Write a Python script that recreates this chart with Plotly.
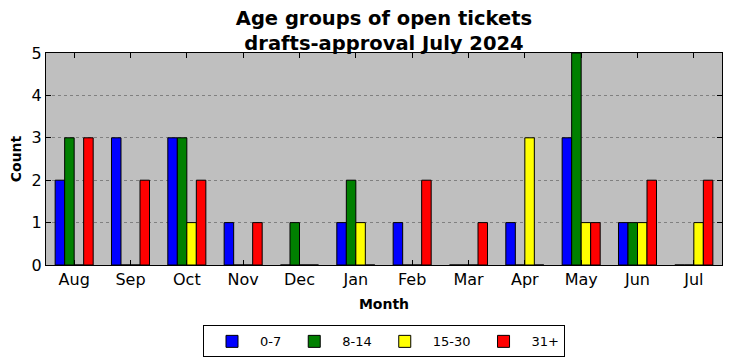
import plotly.graph_objects as go

months = ["Aug", "Sep", "Oct", "Nov", "Dec", "Jan", "Feb", "Mar", "Apr", "May", "Jun", "Jul"]
age_groups = ["0-7", "8-14", "15-30", "31+"]
v_0_7 = [2, 3, 3, 1, 0, 1, 1, 0, 1, 3, 1, 0]
v_8_14 = [3, 0, 3, 0, 1, 2, 0, 0, 0, 5, 1, 0]
v_15_30 = [0, 0, 1, 0, 0, 1, 0, 0, 3, 1, 1, 1]
v_31p = [3, 2, 2, 1, 0, 0, 2, 1, 0, 1, 2, 2]
colors = ["blue", "green", "yellow", "red"]

fig = go.Figure()
for name, vals, c in zip(age_groups, [v_0_7, v_8_14, v_15_30, v_31p], colors):
    fig.add_trace(go.Bar(x=months, y=vals, name=name,
                         marker=dict(color=c, line=dict(color="black", width=1))))

font = "DejaVu Sans"
fig.update_layout(
    width=724, height=353,
    margin=dict(l=38, r=10, t=45, b=96, autoexpand=False),
    paper_bgcolor="white", plot_bgcolor="#bfbfbf",
    barmode="group", bargap=0.325, bargroupgap=0,
    font=dict(family=font, color="black", size=16),
    title=dict(text="<b>Age groups of open tickets<br>drafts-approval July 2024</b>",
               xref="paper", x=0.5, xanchor="center", y=0.953, yanchor="middle",
               font=dict(size=19.5, family=font)),
    legend=dict(orientation="h", x=0.5, xanchor="center", y=-0.285, yanchor="top",
                bordercolor="black", borderwidth=1, font=dict(size=13, family=font),
                itemwidth=46, traceorder="normal"),
    xaxis=dict(title=dict(text="<b>Month</b>", font=dict(size=14), standoff=10),
               showline=True, linecolor="black", linewidth=1, mirror="ticks",
               ticks="inside", ticklen=5, tickcolor="black", showgrid=False,
               tickfont=dict(size=16)),
    yaxis=dict(title=dict(text="<b>Count</b>", font=dict(size=14), standoff=6),
               range=[0, 5], dtick=1, showline=True, linecolor="black", linewidth=1,
               mirror="ticks", ticks="inside", ticklen=5, tickcolor="black",
               showgrid=True, gridcolor="#808080", griddash="dot", gridwidth=1,
               zeroline=False, tickfont=dict(size=16)),
)
fig.write_html("out.html")
